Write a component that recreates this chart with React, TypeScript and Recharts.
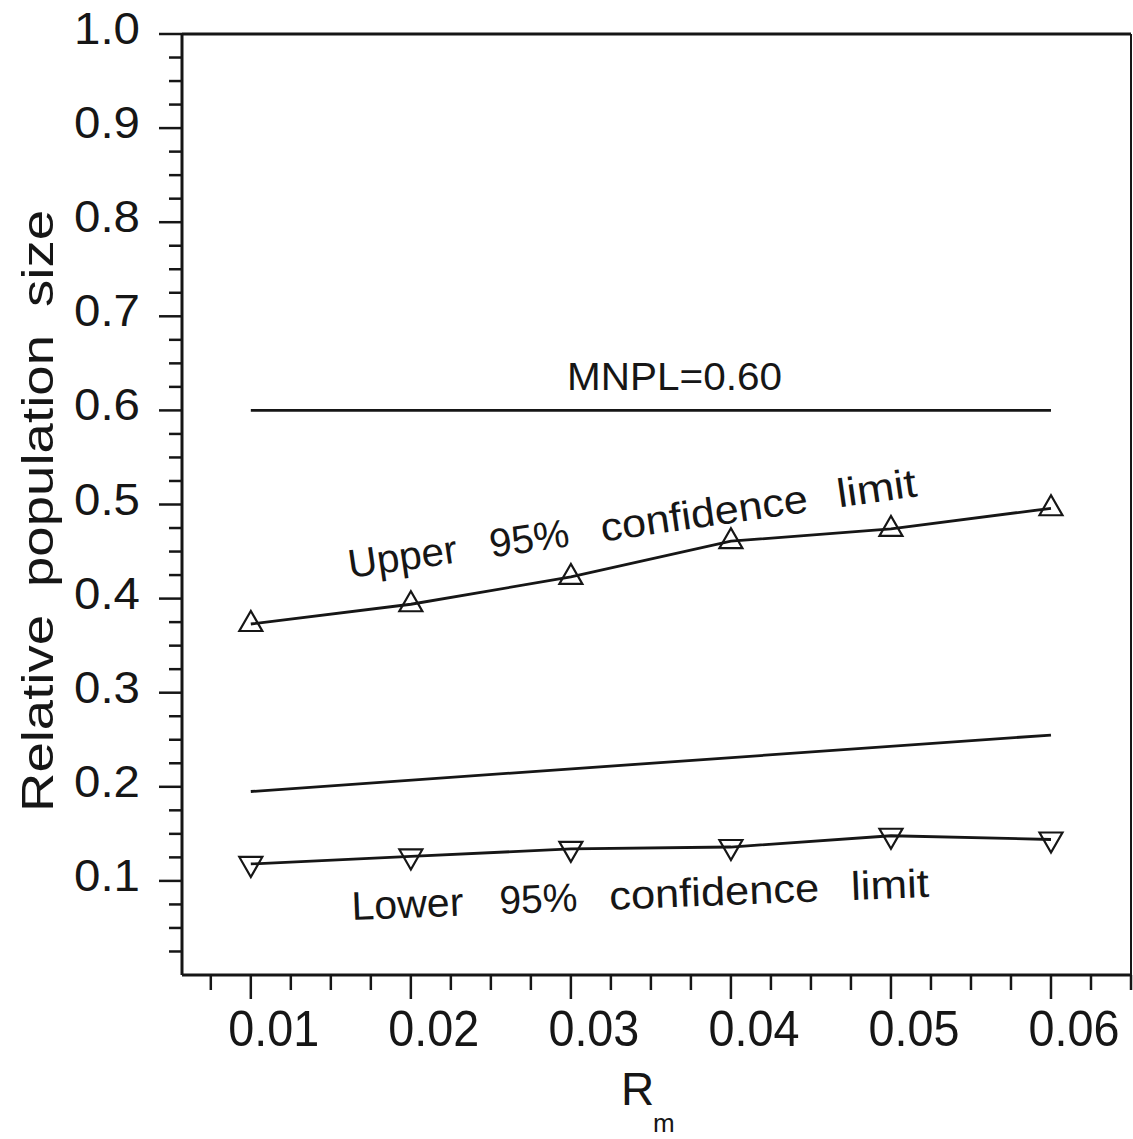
import React from 'react';
import { LineChart, Line, XAxis, YAxis, ReferenceLine } from 'recharts';

// ---- data ----
const rm = [0.01, 0.02, 0.03, 0.04, 0.05, 0.06];
const upper95 = [0.373, 0.394, 0.423, 0.461, 0.474, 0.496];
const lower95 = [0.118, 0.126, 0.134, 0.136, 0.148, 0.144];
const mnplRm = [0.01, 0.06];
const mnpl = [0.6, 0.6];
const midRm = [0.01, 0.06];
const midLine = [0.195, 0.255];

const yMajorTicks = [0.1, 0.2, 0.3, 0.4, 0.5, 0.6, 0.7, 0.8, 0.9, 1.0];
const xMajorTicks = [0.01, 0.02, 0.03, 0.04, 0.05, 0.06];
const yTicks = Array.from({ length: 40 }, (_, i) => Math.round((i + 1) * 25) / 1000);
const xTicks = Array.from({ length: 24 }, (_, i) => Math.round((i + 3) * 25) / 10000);

const upperData = rm.map((x, i) => ({ x, v: upper95[i] }));
const lowerData = rm.map((x, i) => ({ x, v: lower95[i] }));
const mnplData = mnplRm.map((x, i) => ({ x, v: mnpl[i] }));
const midData = midRm.map((x, i) => ({ x, v: midLine[i] }));

const INK = '#161616';
const FONT = '"Liberation Sans", Arial, sans-serif';

const isYMajor = (v: number) => yMajorTicks.some((t) => Math.abs(t - v) < 1e-6);
const isXMajor = (v: number) => xMajorTicks.some((t) => Math.abs(t - v) < 1e-7);

const YTick = (props: any) => {
  const { x, y, payload } = props;
  const v = payload.value as number;
  const major = isYMajor(v);
  return (
    <g>
      <line x1={x - (major ? 23 : 13)} x2={x} y1={y} y2={y} stroke={INK} strokeWidth={2.5} />
      {major && (
        <text
          x={x - 42}
          y={y + 10}
          textAnchor="end"
          fontSize={45}
          fontFamily={FONT}
          fill={INK}
          textLength={66}
          lengthAdjust="spacingAndGlyphs"
        >
          {v.toFixed(1)}
        </text>
      )}
    </g>
  );
};

const XTick = (props: any) => {
  const { x, y, payload } = props;
  const v = payload.value as number;
  const major = isXMajor(v);
  return (
    <g>
      <line x1={x} x2={x} y1={y} y2={y + (major ? 24 : 15)} stroke={INK} strokeWidth={2.5} />
      {major && (
        <text
          x={x + 23}
          y={y + 71}
          textAnchor="middle"
          fontSize={50}
          fontFamily={FONT}
          fill={INK}
          textLength={91}
          lengthAdjust="spacingAndGlyphs"
        >
          {v.toFixed(2)}
        </text>
      )}
    </g>
  );
};

const UpTri = (props: any) => {
  const { cx, cy, index } = props;
  if (cx == null || cy == null) return <g key={`u${index}`} />;
  const pts = `${cx},${cy - 13} ${cx - 11.5},${cy + 7} ${cx + 11.5},${cy + 7}`;
  return <polygon key={`u${index}`} points={pts} fill="none" stroke={INK} strokeWidth={2.2} />;
};

const DownTri = (props: any) => {
  const { cx, cy, index } = props;
  if (cx == null || cy == null) return <g key={`d${index}`} />;
  const pts = `${cx},${cy + 13} ${cx - 11.5},${cy - 7} ${cx + 11.5},${cy - 7}`;
  return <polygon key={`d${index}`} points={pts} fill="none" stroke={INK} strokeWidth={2.2} />;
};

const Word = ({ x, text, len, size = 40 }: { x: number; text: string; len: number; size?: number }) => (
  <text x={x} y={0} fontSize={size} fontFamily={FONT} fill={INK} textLength={len} lengthAdjust="spacingAndGlyphs">
    {text}
  </text>
);

export default function App() {
  return (
    <div style={{ position: 'absolute', left: 0, top: 0, width: 1133, height: 1139, background: '#fff' }}>
      <LineChart
        width={1133}
        height={1139}
        margin={{ top: 34, right: 2, left: 102, bottom: 104 }}
        style={{ position: 'absolute', left: 0, top: 0 }}
      >
        <XAxis
          type="number"
          dataKey="x"
          domain={[0.0057, 0.065]}
          allowDataOverflow
          ticks={xTicks}
          interval={0}
          tickSize={0}
          tickMargin={0}
          tick={<XTick />}
          tickLine={false}
          axisLine={{ stroke: INK, strokeWidth: 3 }}
          height={60}
        />
        <YAxis
          type="number"
          domain={[0, 1]}
          allowDataOverflow
          ticks={yTicks}
          interval={0}
          tickSize={0}
          tickMargin={0}
          tick={<YTick />}
          tickLine={false}
          axisLine={{ stroke: INK, strokeWidth: 3 }}
          width={80}
        />
        <ReferenceLine y={1} stroke={INK} strokeWidth={3} ifOverflow="visible" />
        <ReferenceLine x={0.065} stroke={INK} strokeWidth={2} ifOverflow="visible" />
        <Line data={mnplData} dataKey="v" stroke={INK} strokeWidth={2.8} dot={false} isAnimationActive={false} type="linear" />
        <Line data={midData} dataKey="v" stroke={INK} strokeWidth={2.8} dot={false} isAnimationActive={false} type="linear" />
        <Line data={upperData} dataKey="v" stroke={INK} strokeWidth={2.8} dot={<UpTri />} isAnimationActive={false} type="linear" />
        <Line data={lowerData} dataKey="v" stroke={INK} strokeWidth={2.8} dot={<DownTri />} isAnimationActive={false} type="linear" />
      </LineChart>
      <svg
        width={1133}
        height={1139}
        style={{ position: 'absolute', left: 0, top: 0, pointerEvents: 'none' }}
      >
        <text x={567} y={390} fontSize={39} fontFamily={FONT} fill={INK} textLength={215} lengthAdjust="spacingAndGlyphs">
          MNPL=0.60
        </text>
        <g transform="translate(350,578) rotate(-8.2)">
          <Word x={0} text="Upper" len={110} />
          <Word x={143} text="95%" len={80} />
          <Word x={255} text="confidence" len={209} />
          <Word x={494} text="limit" len={80} />
        </g>
        <g transform="translate(352,920) rotate(-2.3)">
          <Word x={0} text="Lower" len={112} />
          <Word x={148} text="95%" len={78} />
          <Word x={258} text="confidence" len={210} />
          <Word x={500} text="limit" len={78} />
        </g>
        <g transform="translate(53,812) rotate(-90)">
          <Word x={0} text="Relative" len={197} size={45} />
          <Word x={225} text="population" len={252} size={45} />
          <Word x={505} text="size" len={97} size={45} />
        </g>
        <text x={621} y={1105} fontSize={46} fontFamily={FONT} fill={INK}>
          R
        </text>
        <text x={653} y={1132} fontSize={26} fontFamily={FONT} fill={INK}>
          m
        </text>
      </svg>
    </div>
  );
}
